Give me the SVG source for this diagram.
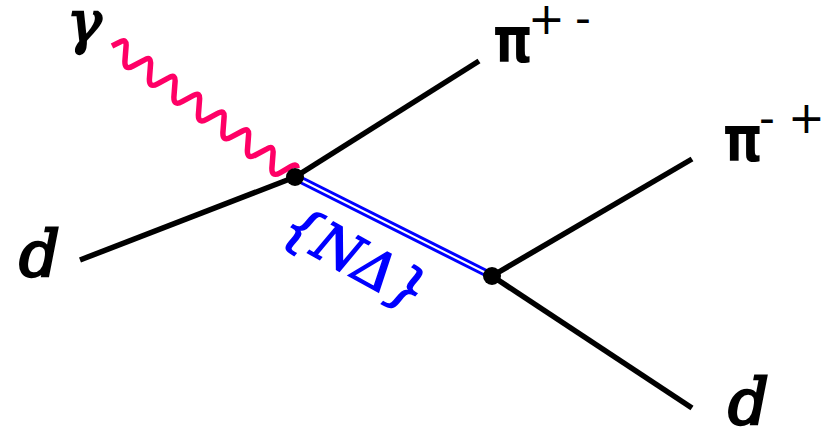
<svg xmlns="http://www.w3.org/2000/svg" width="828" height="428" viewBox="0 0 828 428">
<style>
.l{fill:none;stroke:#000;stroke-width:5.5}
.t{font-family:"DejaVu Serif",serif;font-style:italic;fill:#000;stroke:#000;stroke-width:2.4}
.p{font-family:"DejaVu Sans",sans-serif;font-weight:bold;fill:#000}
.s{font-family:"DejaVu Sans",sans-serif;fill:#000}
</style>
<rect width="828" height="428" fill="#fff"/>
<g id="connectors">
<path class="l" d="M80 260L295 177"/>
<path class="l" d="M295 177L479 61"/>
<path class="l" d="M492 276L692 159"/>
<path class="l" d="M492 276L692 408"/>
<path fill="none" stroke="#0000ff" stroke-width="8" d="M295 177L492 276"/>
<path fill="none" stroke="#fff" stroke-width="2" d="M295 177L492 276"/>
<path fill="none" stroke="#ff0066" stroke-width="5.5" d="M112 46L120 42Q127 38 126 47L125 60Q124 71 133 66L144.5 59.8Q151.5 55.8 150.5 64.8L149.5 77.8Q148.5 88.8 157.5 83.8L169 77.6Q176 73.6 175 82.6L174 95.6Q173 106.6 182 101.6L193.5 95.4Q200.5 91.4 199.5 100.4L198.5 113.4Q197.5 124.4 206.5 119.4L218 113.2Q225 109.2 224 118.2L223 131.2Q222 142.2 231 137.2L242.5 131Q249.5 127 248.5 136L247.5 149Q246.5 160 255.5 155L267 148.8Q274 144.8 273 153.8L272 166.8Q271 177.8 280 172.8L291 166.5Q297 163 297 168"/>
</g>
<g id="vertex1"><circle cx="295" cy="177" r="9"/></g>
<g id="vertex2"><circle cx="492" cy="276" r="9"/></g>
<g id="gamma"><text class="t" x="67" y="42" font-size="58">γ</text></g>
<g id="d-in"><text class="t" x="19" y="276" font-size="64">d</text></g>
<g id="d-out"><text class="t" x="728" y="424" font-size="64">d</text></g>
<g id="pi1"><text class="p" transform="translate(493 62) scale(1 1.28)" font-size="50">π</text><text class="s" x="528" y="34" font-size="44">+</text><text class="s" x="575" y="33" font-size="44">-</text></g>
<g id="pi2"><text class="p" transform="translate(723 161) scale(1 1.28)" font-size="50">π</text><text class="s" x="759" y="133" font-size="44">-</text><text class="s" x="788" y="133" font-size="44">+</text></g>
<g id="label"><text transform="translate(353 262) rotate(29)" text-anchor="middle" dominant-baseline="middle" font-family="DejaVu Serif, serif" font-style="italic" font-size="54" fill="#0000ff" stroke="#0000ff" stroke-width="1.5">{NΔ}</text></g>
</svg>
